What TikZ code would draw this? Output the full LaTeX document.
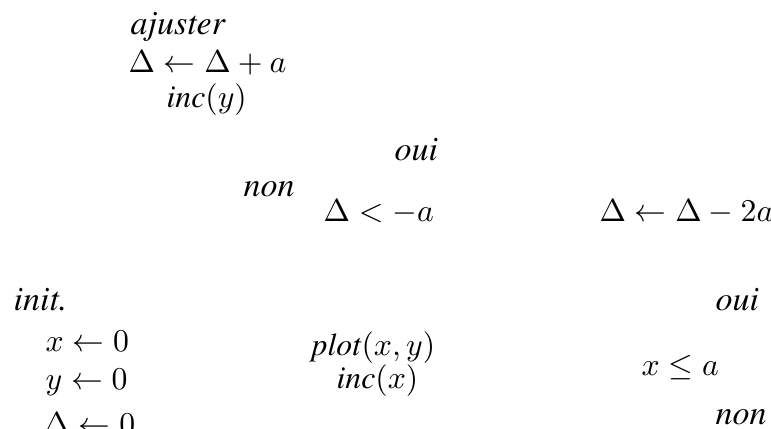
\documentclass[tikz,border=0pt]{standalone}
\usepackage[T1]{fontenc}
\usepackage{times}
\begin{document}
\begin{tikzpicture}[x=0.315pt,y=-0.315pt,
  txt/.style={inner sep=0pt, anchor=base west},
  lbl/.style={inner sep=0pt, anchor=base west, font=\fontsize{10.7}{12}\selectfont\itshape}]
\clip (0,0) rectangle (771,428);
% adjust block
\node[lbl] (adjlbl) at (130,34) {ajuster};
\node[txt] (adj1) at (128,72) {$\Delta \leftarrow \Delta + a$};
\node[txt] (adj2) at (166,107) {\textit{inc}$(y)$};
% decision delta < -a
\node[lbl] (ouiA) at (394,160) {oui};
\node[lbl] (nonA) at (243,196) {non};
\node[txt] (decA) at (323,221) {$\Delta < -a$};
\node[txt] (sub) at (599,221) {$\Delta \leftarrow \Delta - 2a$};
% init block
\node[lbl] (initlbl) at (13,310) {init.};
\node[txt] (init1) at (45,351) {$x \leftarrow 0$};
\node[txt] (init2) at (45,389) {$y \leftarrow 0$};
\node[txt] (init3) at (43,434) {$\Delta \leftarrow 0$};
% plot block
\node[txt] (plot1) at (311,355) {\textit{plot}$(x,y)$};
\node[txt] (plot2) at (336,388) {\textit{inc}$(x)$};
% decision x <= a
\node[lbl] (ouiB) at (715,310) {oui};
\node[txt] (decB) at (641,375) {$x \leq a$};
\node[lbl] (nonB) at (715,424) {non};
\end{tikzpicture}
\end{document}
